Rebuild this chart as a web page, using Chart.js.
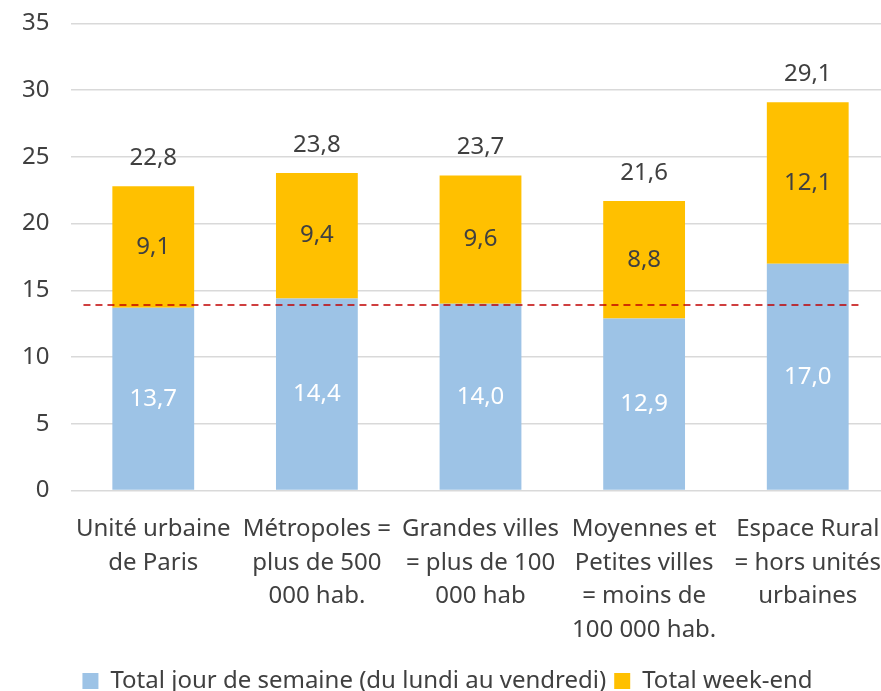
<!DOCTYPE html>
<html>
<head>
<meta charset="utf-8">
<script src="https://cdn.jsdelivr.net/npm/chart.js@4"></script>
<style>
  html, body { margin: 0; padding: 0; background: #fff; overflow: hidden; }
  #wrap { width: 895px; height: 716px; margin-top: -13px; position: relative; }
</style>
</head>
<body>
<div id="wrap"><canvas id="chart"></canvas></div>
<script>
const categories = [
    ["Unité urbaine", "de Paris"],
    ["Métropoles =", "plus de 500", "000 hab."],
    ["Grandes villes", "= plus de 100", "000 hab"],
    ["Moyennes et", "Petites villes", "= moins de", "100 000 hab."],
    ["Espace Rural", "= hors unités", "urbaines"]
];
const semaine = [13.7, 14.4, 14.0, 12.9, 17.0];
const weekend = [9.1, 9.4, 9.6, 8.8, 12.1];
const totals = [22.8, 23.8, 23.7, 21.6, 29.1];
const refLine = 13.9;
const yTicks = [0, 5, 10, 15, 20, 25, 30, 35];

const FONT = "'Noto Sans', sans-serif";
const fmt = v => v.toFixed(1).replace(".", ",");

// red dashed reference line across the plot
const refLinePlugin = {
    id: "refLine",
    afterDatasetsDraw(chart) {
        const { ctx, chartArea, scales } = chart;
        const y = scales.y.getPixelForValue(refLine);
        ctx.save();
        ctx.strokeStyle = "#c00000";
        ctx.lineWidth = 1.4;
        ctx.setLineDash([7, 5]);
        ctx.beginPath();
        ctx.moveTo(chartArea.left + 12, y);
        ctx.lineTo(chartArea.right - 28, y);
        ctx.stroke();
        ctx.restore();
    }
};

// values in the bars and totals above
const labelsPlugin = {
    id: "barLabels",
    afterDatasetsDraw(chart) {
        const ctx = chart.ctx;
        ctx.save();
        ctx.font = "24px " + FONT;
        ctx.textAlign = "center";
        ctx.textBaseline = "middle";
        chart.data.datasets.forEach((ds, i) => {
            const meta = chart.getDatasetMeta(i);
            meta.data.forEach((bar, j) => {
                const mid = (bar.y + bar.base) / 2;
                ctx.fillStyle = i === 0 ? "#ffffff" : "#404040";
                ctx.fillText(fmt(ds.data[j]), bar.x, mid);
            });
        });
        const top = chart.getDatasetMeta(1);
        ctx.fillStyle = "#404040";
        top.data.forEach((bar, j) => {
            ctx.fillText(fmt(totals[j]), bar.x, bar.y - 28);
        });
        ctx.restore();
    }
};

new Chart(document.getElementById("chart"), {
    type: "bar",
    data: {
        labels: categories,
        datasets: [
            {
                label: "Total jour de semaine (du lundi au vendredi)",
                data: semaine,
                backgroundColor: "#9dc3e6",
                categoryPercentage: 1,
                barPercentage: 0.5
            },
            {
                label: "Total week-end",
                data: weekend,
                backgroundColor: "#ffc000",
                categoryPercentage: 1,
                barPercentage: 0.5
            }
        ]
    },
    options: {
        responsive: true,
        maintainAspectRatio: false,
        animation: false,
        layout: { padding: 0 },
        plugins: {
            legend: {
                position: "bottom",
                labels: {
                    font: { family: FONT, size: 24 },
                    color: "#404040",
                    boxWidth: 16,
                    boxHeight: 16,
                    padding: 8
                }
            },
            tooltip: { enabled: false }
        },
        scales: {
            x: {
                stacked: true,
                grid: { display: false },
                border: { display: false },
                ticks: {
                    font: { family: FONT, size: 24, lineHeight: 1.4 },
                    color: "#404040",
                    maxRotation: 0,
                    autoSkip: false,
                    padding: 14
                }
            },
            y: {
                stacked: true,
                min: 0,
                max: 35,
                afterBuildTicks: axis => { axis.ticks = yTicks.map(v => ({ value: v })); },
                grid: { color: "#d9d9d9", lineWidth: 1.5, drawTicks: false },
                border: { display: false },
                ticks: {
                    font: { family: FONT, size: 24 },
                    color: "#404040",
                    padding: 22
                }
            }
        }
    },
    plugins: [refLinePlugin, labelsPlugin]
});
</script>
</body>
</html>
